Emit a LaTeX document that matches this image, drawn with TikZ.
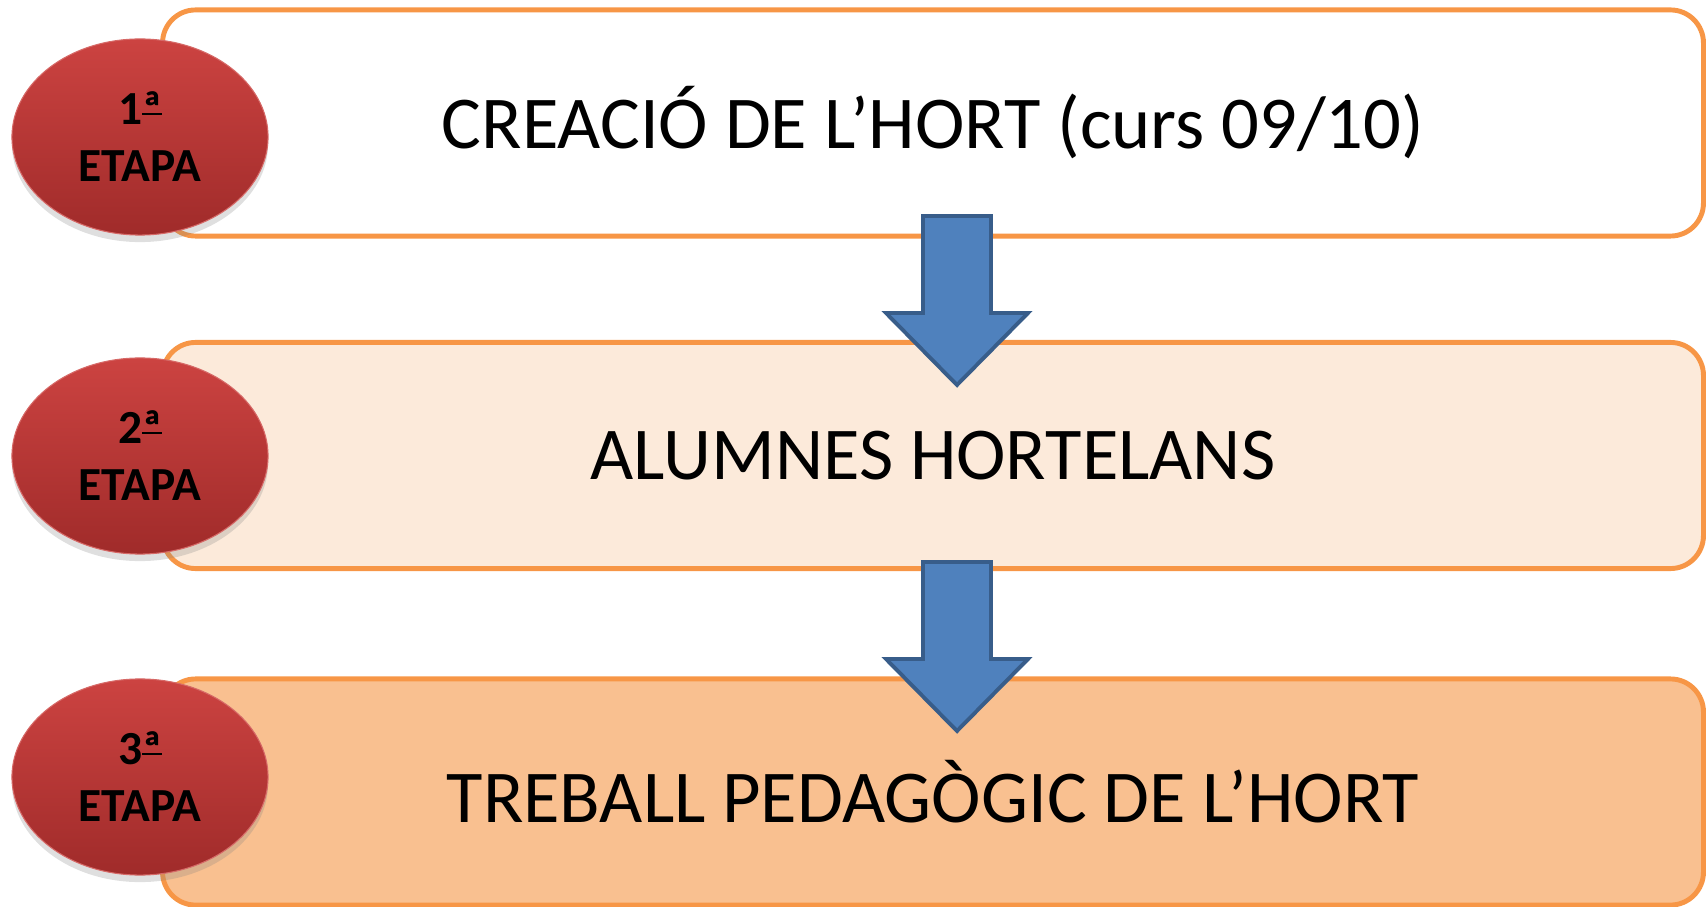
\documentclass[tikz,border=0pt]{standalone}
\usepackage{fontspec}
\setmainfont{Carlito}
\usetikzlibrary{shapes.geometric,shadows}
\definecolor{vora}{HTML}{F79646}
\definecolor{fons2}{HTML}{FCEADA}
\definecolor{fons3}{HTML}{F9C090}
\definecolor{blau}{HTML}{4F81BD}
\definecolor{blaufosc}{HTML}{385D8A}
\definecolor{vermellA}{HTML}{CC4341}
\definecolor{vermellB}{HTML}{A02B2A}
% ordinal subratllat
\newcommand\ordinal[1]{\leavevmode\setbox0\hbox{#1}\rlap{\rule[0.2em]{\wd0}{0.055em}}\box0}
\tikzset{
  fase/.style={draw=vora, line width=1.4pt, rounded corners=0.33cm,
    minimum width=15.4cm, minimum height=2.26cm,
    font=\fontsize{21.2}{26}\selectfont},
  etapa/.style={ellipse, draw=vermellA!80!white, line width=0.3pt,
    top color=vermellA, bottom color=vermellB, inner sep=0pt,
    minimum width=2.56cm, minimum height=1.96cm, align=center,
    font=\bfseries\fontsize{13.5}{16.2}\selectfont,
    drop shadow={opacity=0.25, shadow xshift=0pt, shadow yshift=-2pt}},
  fletxa/.style={draw=blaufosc, fill=blau, line width=1.1pt, line join=miter},
  baixa/.pic={\draw[fletxa] (-34,0) -- (34,0) -- (34,97) -- (71,97)
    -- (0,169) -- (-71,97) -- (-34,97) -- cycle;}
}
\begin{document}
\begin{tikzpicture}[x=0.01cm, y=-0.01cm]
  \useasboundingbox (0,0) rectangle (1707,907);
  % caixes de cada etapa
  \node[fase, fill=white] (caixa1) at (933,123) {CREACIÓ DE L’HORT (curs 09/10)};
  \node[fase, fill=fons2] (caixa2) at (933,455.5) {ALUMNES HORTELANS};
  \node[fase, fill=fons3] (caixa3) at (933,792) {TREBALL PEDAGÒGIC DE L’HORT};
  % fletxes
  \coordinate (f1) at (957,216);
  \coordinate (f2) at (957,562);
  \pic at (f1) {baixa};
  \pic at (f2) {baixa};
  % etiquetes
  \node[etapa] (etapa1) at (140,137) {1\ordinal{ª}\\ETAPA};
  \node[etapa] (etapa2) at (140,456) {2\ordinal{ª}\\ETAPA};
  \node[etapa] (etapa3) at (140,777) {3\ordinal{ª}\\ETAPA};
\end{tikzpicture}
\end{document}
